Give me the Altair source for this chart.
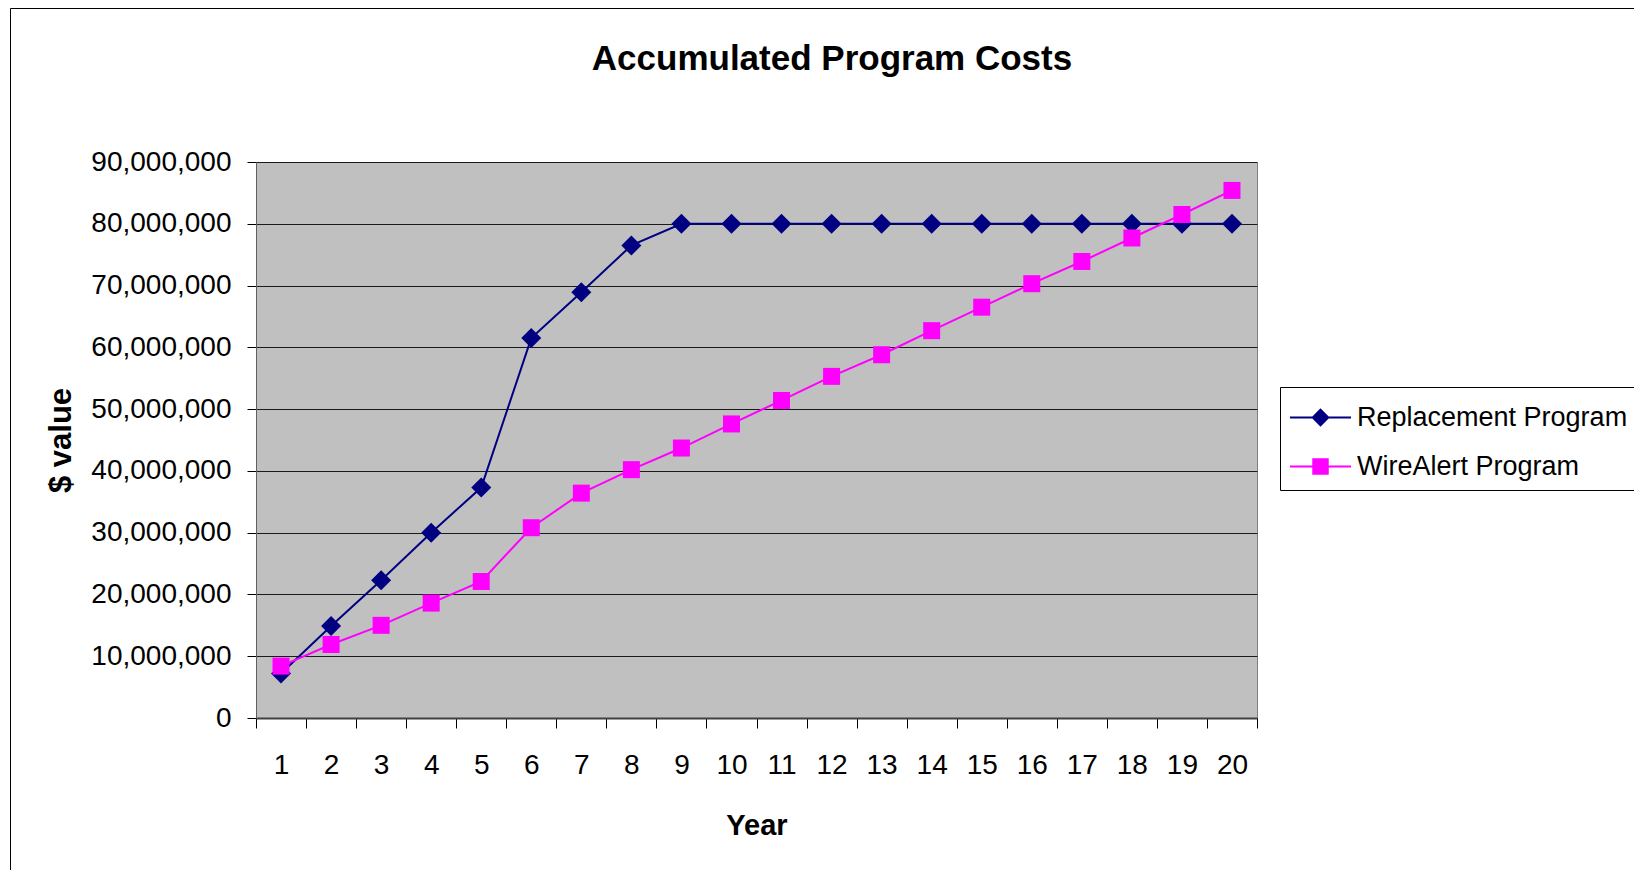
import altair as alt
import pandas as pd

# ---- data ----
years = list(range(1, 21))
series_names = ["Replacement Program", "WireAlert Program"]
replacement = [7.2e6, 14.9e6, 22.3e6, 30.0e6, 37.3e6, 61.5e6, 68.9e6, 76.5e6,
               80.0e6, 80.0e6, 80.0e6, 80.0e6, 80.0e6, 80.0e6, 80.0e6, 80.0e6,
               80.0e6, 80.0e6, 80.0e6, 80.0e6]
wirealert = [8.4e6, 11.9e6, 15.0e6, 18.6e6, 22.1e6, 30.8e6, 36.4e6, 40.2e6,
             43.7e6, 47.6e6, 51.4e6, 55.3e6, 58.8e6, 62.7e6, 66.5e6, 70.3e6,
             73.9e6, 77.7e6, 81.5e6, 85.4e6]
y_ticks = [0, 10e6, 20e6, 30e6, 40e6, 50e6, 60e6, 70e6, 80e6, 90e6]
chart_title = "Accumulated Program Costs"
x_title = "Year"
y_title = "$ value"

FONT = "Liberation Sans"
W, H = 1001, 556
colors = ["#000080", "#FF00FF"]
# legend symbols: a line segment with the marker in the middle
legend_paths = [
    "M-1,-0.035H1V0.035H-1Z M0,-0.3L0.3,0L0,0.3L-0.3,0Z",
    "M-1,-0.035H1V0.035H-1Z M-0.27,-0.27H0.27V0.27H-0.27Z",
]

df = pd.DataFrame({
    "year": years * 2,
    "value": replacement + wirealert,
    "series": [series_names[0]] * len(years) + [series_names[1]] * len(years),
})

x_enc = alt.X(
    "year:O",
    scale=alt.Scale(type="band", paddingInner=0, paddingOuter=0),
    axis=alt.Axis(
        title=x_title, labelAngle=0, tickBand="extent", tickSize=10,
        tickColor="#000000", labelFontSize=28, labelFont=FONT, labelColor="#000000",
        labelPadding=23, domainColor="#404040", domainWidth=2,
        titleFont=FONT, titleFontSize=29, titleFontWeight="bold", titleColor="#000000",
        titleBaseline="alphabetic", titleY=116, grid=False,
    ),
)
y_enc = alt.Y(
    "value:Q",
    scale=alt.Scale(domain=[0, 90e6], nice=False, zero=True),
    axis=alt.Axis(
        title=y_title, values=y_ticks, format=",.0f", tickSize=9, tickColor="#000000",
        labelFontSize=28, labelFont=FONT, labelColor="#000000", labelPadding=16,
        domainColor="#606060", gridColor="#1a1a1a", gridWidth=1,
        titleFont=FONT, titleFontSize=31, titleFontWeight="bold", titleColor="#000000",
        titleBaseline="alphabetic", titleX=-186, titleY=H / 2, titleAngle=-90,
    ),
)
color_scale = alt.Scale(domain=series_names, range=colors)
color_enc = alt.Color("series:N", scale=color_scale, title=None)

base = alt.Chart(df)

lines = base.mark_line(strokeWidth=2).encode(x=x_enc, y=y_enc, color=color_enc)

pts_rep = base.transform_filter(alt.datum.series == series_names[0]).mark_point(
    shape="diamond", filled=True, size=400, opacity=1
).encode(x=x_enc, y=y_enc, color=color_enc)

pts_wa = base.transform_filter(alt.datum.series == series_names[1]).mark_point(
    shape="square", filled=True, size=289, opacity=1
).encode(x=x_enc, y=y_enc, color=color_enc)

legend_layer = base.mark_point(filled=True, opacity=0).encode(
    x=x_enc, y=y_enc,
    color=color_enc,
    shape=alt.Shape("series:N", scale=alt.Scale(domain=series_names, range=legend_paths), title=None),
)

one = pd.DataFrame({"k": [0]})
title_mark = alt.Chart(one).mark_text(
    font=FONT, fontSize=35, fontWeight="bold", color="#000000",
    align="center", baseline="alphabetic",
).encode(x=alt.value(576), y=alt.value(-92), text=alt.value(chart_title))

frame = alt.Chart(one).mark_rect(
    fillOpacity=0, stroke="#000000", strokeWidth=1
).encode(x=alt.value(-245.5), x2=alt.value(1500), y=alt.value(-153.5), y2=alt.value(1000))

legend_box = alt.Chart(one).mark_rect(
    fill="#FFFFFF", stroke="#000000", strokeWidth=1
).encode(x=alt.value(1024.5), x2=alt.value(1500), y=alt.value(225.5), y2=alt.value(328.5))

chart = alt.layer(frame, legend_box, lines, pts_rep, pts_wa, legend_layer, title_mark).properties(
    width=W, height=H,
    autosize=alt.AutoSizeParams(type="none"),
    padding={"left": 248, "top": 154, "right": 377, "bottom": 152},
    background="#FFFFFF",
).configure_view(
    fill="#C0C0C0", stroke="#808080", strokeWidth=1,
).configure_legend(
    orient="none", legendX=1024, legendY=215, strokeColor="transparent",
    padding=10, rowPadding=5, labelFontSize=27, labelFont=FONT, labelColor="#000000",
    labelOffset=6, labelLimit=500, symbolSize=3721, symbolOpacity=1, symbolStrokeWidth=0,
    cornerRadius=0,
)

chart.save("out.html", embed_options={"renderer": "svg", "actions": False})
